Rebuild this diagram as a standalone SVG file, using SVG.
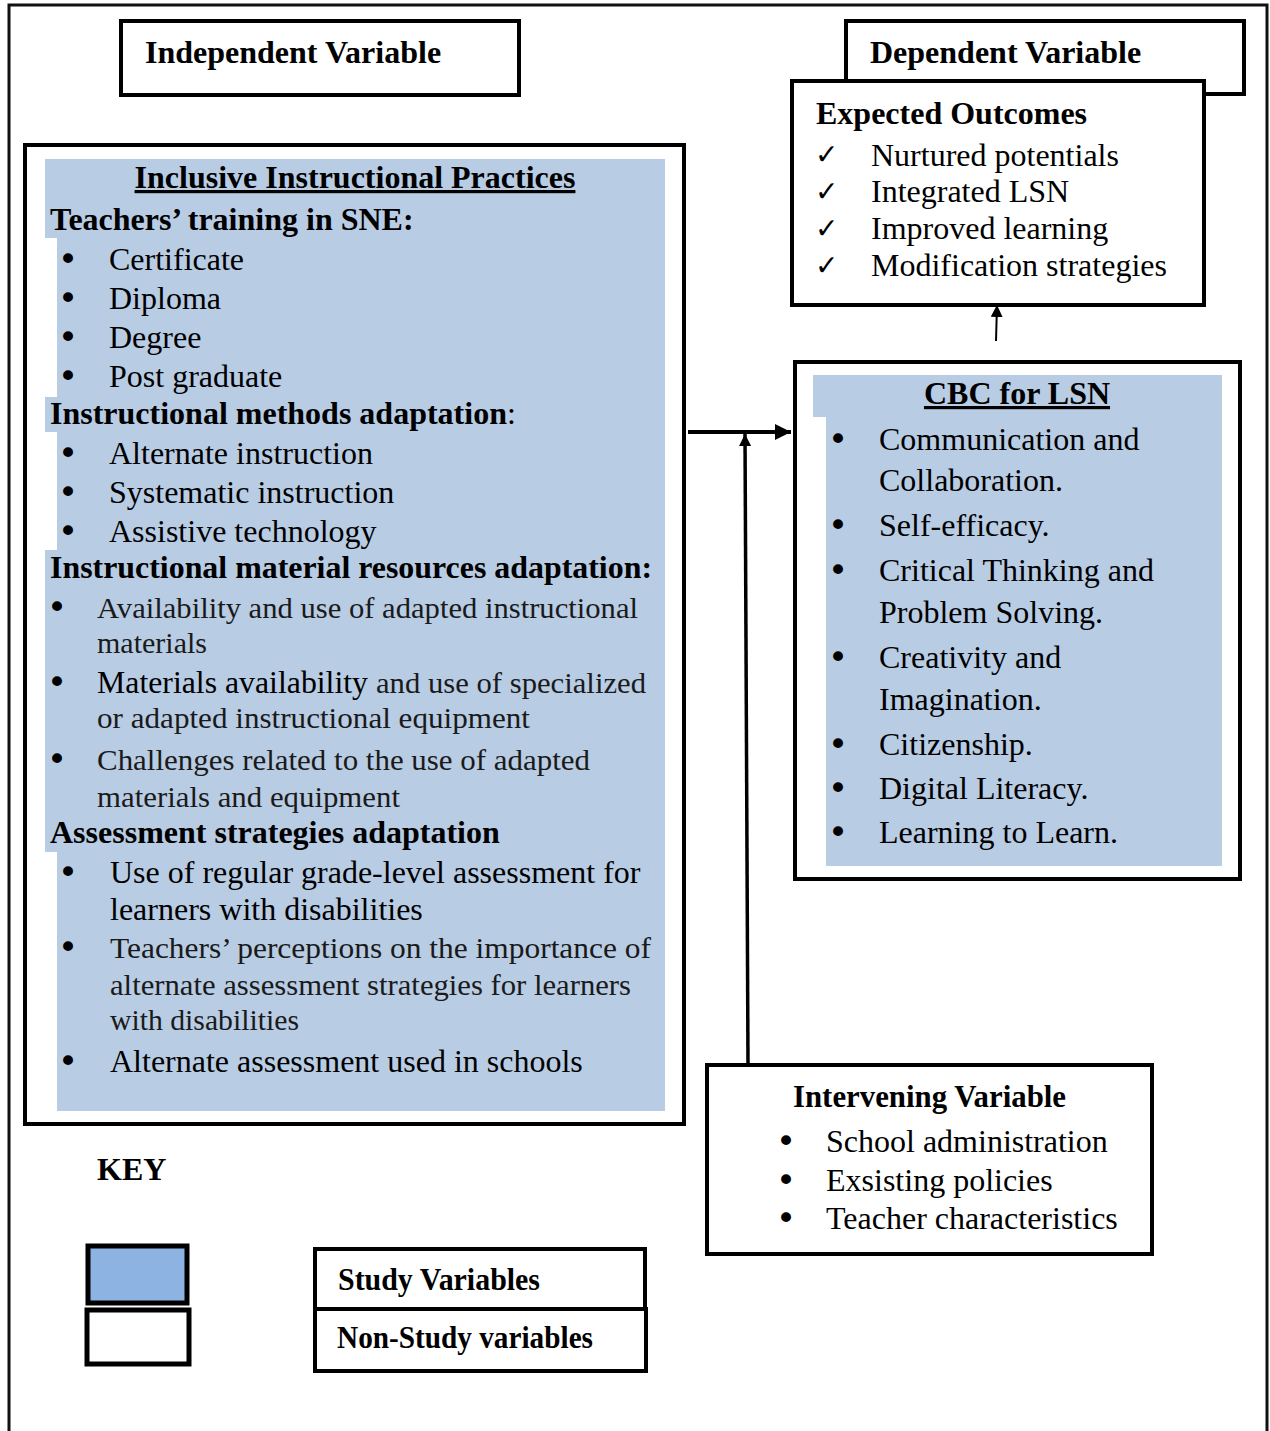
<svg xmlns="http://www.w3.org/2000/svg" width="1270" height="1431" viewBox="0 0 1270 1431">
<defs>
<style>
.box{fill:#fff;stroke:#000;stroke-width:4}
.fill{fill:#B8CCE4}
.t{font-family:"Liberation Serif","Times New Roman",serif;font-size:32px;fill:#000}
.bu{font-family:"DejaVu Sans",sans-serif;font-size:34px;fill:#000}
.b{font-family:"Liberation Serif","Times New Roman",serif;font-size:32px;font-weight:bold;fill:#000}
.g{font-family:"Liberation Serif","Times New Roman",serif;font-size:29px;fill:#1a1a1a}
.ck{font-family:"DejaVu Sans",sans-serif;font-size:28px;fill:#000}
.ln{stroke:#000;fill:none}
</style>
<marker id="ah" viewBox="0 0 16 16" refX="16" refY="8" markerWidth="16" markerHeight="16" markerUnits="userSpaceOnUse" orient="auto"><path d="M0,0 L16,8 L0,16 Z" fill="#000"/></marker>
<marker id="ahs" viewBox="0 0 12 12" refX="12" refY="6" markerWidth="12" markerHeight="12" markerUnits="userSpaceOnUse" orient="auto"><path d="M0,0 L12,6 L0,12 Z" fill="#000"/></marker>
</defs>
<rect width="1270" height="1431" fill="#fff"/>
<path d="M9,1431 V5 H1267 V1431" fill="none" stroke="#111" stroke-width="3"/>

<g id="independent-label">
<rect class="box" x="121" y="21" width="398" height="74"/>
<text class="b" x="145" y="63" font-size="33">Independent Variable</text>
</g>

<g id="dependent-label">
<rect class="box" x="846" y="21" width="398" height="73"/>
<text class="b" x="870" y="63" font-size="33">Dependent Variable</text>
</g>

<g id="expected-outcomes">
<rect class="box" x="792" y="81" width="412" height="224"/>
<text class="b" x="816" y="124" font-size="32.3">Expected Outcomes</text>
<text class="ck" x="815" y="164">✓</text>
<text class="ck" x="815" y="201">✓</text>
<text class="ck" x="815" y="238">✓</text>
<text class="ck" x="815" y="275">✓</text>
<text class="t" x="871" y="166">Nurtured potentials</text>
<text class="t" x="871" y="202">Integrated LSN</text>
<text class="t" x="871" y="239">Improved learning</text>
<text class="t" x="871" y="276">Modification strategies</text>
</g>

<g id="inclusive-practices">
<rect class="box" x="25" y="145" width="659" height="979"/>
<rect class="fill" x="57" y="159" width="608" height="952"/>
<rect class="fill" x="45" y="159" width="13" height="79"/>
<rect class="fill" x="45" y="397" width="13" height="35"/>
<rect class="fill" x="45" y="550" width="13" height="302"/>
<text class="b" x="355" y="188" text-anchor="middle" font-size="32.5" text-decoration="underline">Inclusive Instructional Practices</text>
<text class="b" x="50" y="230" font-size="33">Teachers’ training in SNE:</text>
<text class="bu" x="58" y="271">•</text><text class="t" x="109" y="270">Certificate</text>
<text class="bu" x="58" y="310">•</text><text class="t" x="109" y="309">Diploma</text>
<text class="bu" x="58" y="349">•</text><text class="t" x="109" y="348">Degree</text>
<text class="bu" x="58" y="388">•</text><text class="t" x="109" y="387">Post graduate</text>
<text class="b" x="50" y="424">Instructional methods adaptation<tspan font-weight="normal">:</tspan></text>
<text class="bu" x="58" y="465">•</text><text class="t" x="109" y="464">Alternate instruction</text>
<text class="bu" x="58" y="504">•</text><text class="t" x="109" y="503">Systematic instruction</text>
<text class="bu" x="58" y="543">•</text><text class="t" x="109" y="542">Assistive technology</text>
<text class="b" x="50" y="578" textLength="602" lengthAdjust="spacingAndGlyphs">Instructional material resources adaptation:</text>
<text class="bu" x="47" y="619">•</text><text class="g" x="97" y="618" textLength="541" lengthAdjust="spacingAndGlyphs">Availability and use of adapted instructional</text>
<text class="g" x="97" y="653" textLength="110" lengthAdjust="spacingAndGlyphs">materials</text>
<text class="bu" x="47" y="694">•</text><text class="t" x="97" y="693" textLength="271" lengthAdjust="spacingAndGlyphs">Materials availability</text><text class="g" x="376" y="693" textLength="270" lengthAdjust="spacingAndGlyphs">and use of specialized</text>
<text class="g" x="97" y="728" textLength="433" lengthAdjust="spacingAndGlyphs">or adapted instructional equipment</text>
<text class="bu" x="47" y="771">•</text><text class="g" x="97" y="770" textLength="493" lengthAdjust="spacingAndGlyphs">Challenges related to the use of adapted</text>
<text class="g" x="97" y="807" textLength="303" lengthAdjust="spacingAndGlyphs">materials and equipment</text>
<text class="b" x="50" y="843">Assessment strategies adaptation</text>
<text class="bu" x="58" y="884">•</text><text class="t" x="110" y="883">Use of regular grade-level assessment for</text>
<text class="t" x="110" y="920">learners with disabilities</text>
<text class="bu" x="58" y="959">•</text><text class="g" x="110" y="958" textLength="541" lengthAdjust="spacingAndGlyphs">Teachers’ perceptions on the importance of</text>
<text class="g" x="110" y="995" textLength="521" lengthAdjust="spacingAndGlyphs">alternate assessment strategies for learners</text>
<text class="g" x="110" y="1030" textLength="189" lengthAdjust="spacingAndGlyphs">with disabilities</text>
<text class="bu" x="58" y="1073">•</text><text class="t" x="110" y="1072">Alternate assessment used in schools</text>
</g>

<g id="cbc-for-lsn">
<rect class="box" x="795" y="362" width="445" height="517"/>
<rect class="fill" x="813" y="375" width="409" height="42"/>
<rect class="fill" x="826" y="375" width="396" height="491"/>
<text class="b" x="1017" y="404" text-anchor="middle" text-decoration="underline">CBC for LSN</text>
<text class="bu" x="828" y="451">•</text><text class="t" x="879" y="450">Communication and</text>
<text class="t" x="879" y="491">Collaboration.</text>
<text class="bu" x="828" y="537">•</text><text class="t" x="879" y="536">Self-efficacy.</text>
<text class="bu" x="828" y="582">•</text><text class="t" x="879" y="581">Critical Thinking and</text>
<text class="t" x="879" y="623">Problem Solving.</text>
<text class="bu" x="828" y="669">•</text><text class="t" x="879" y="668">Creativity and</text>
<text class="t" x="879" y="710">Imagination.</text>
<text class="bu" x="828" y="756">•</text><text class="t" x="879" y="755">Citizenship.</text>
<text class="bu" x="828" y="800">•</text><text class="t" x="879" y="799">Digital Literacy.</text>
<text class="bu" x="828" y="844">•</text><text class="t" x="879" y="843">Learning to Learn.</text>
</g>

<g id="intervening">
<rect class="box" x="707" y="1065" width="445" height="189"/>
<text class="b" x="793" y="1107" font-size="30" textLength="273" lengthAdjust="spacingAndGlyphs">Intervening Variable</text>
<text class="bu" x="776" y="1153">•</text><text class="t" x="826" y="1152">School administration</text>
<text class="bu" x="776" y="1192">•</text><text class="t" x="826" y="1191">Exsisting policies</text>
<text class="bu" x="776" y="1230">•</text><text class="t" x="826" y="1229">Teacher characteristics</text>
</g>

<g id="key">
<text class="b" x="97" y="1180">KEY</text>
<rect x="88" y="1246" width="99" height="57" fill="#8DB3E2" stroke="#000" stroke-width="5"/>
<rect x="87" y="1310" width="102" height="54" fill="#fff" stroke="#000" stroke-width="5"/>
<rect class="box" x="315" y="1249" width="330" height="60"/>
<rect class="box" x="315" y="1309" width="331" height="62"/>
<text class="b" x="338" y="1290" font-size="28" textLength="202" lengthAdjust="spacingAndGlyphs">Study Variables</text>
<text class="b" x="337" y="1348" font-size="28" textLength="256" lengthAdjust="spacingAndGlyphs">Non-Study variables</text>
</g>

<g id="connectors">
<line class="ln" x1="688" y1="432" x2="791" y2="432" stroke-width="4" marker-end="url(#ah)"/>
<line class="ln" x1="748" y1="1064" x2="745" y2="434" stroke-width="3.5" marker-end="url(#ahs)"/>
<line class="ln" x1="996" y1="341" x2="997" y2="305" stroke-width="2" marker-end="url(#ahs)"/>
</g>
</svg>
